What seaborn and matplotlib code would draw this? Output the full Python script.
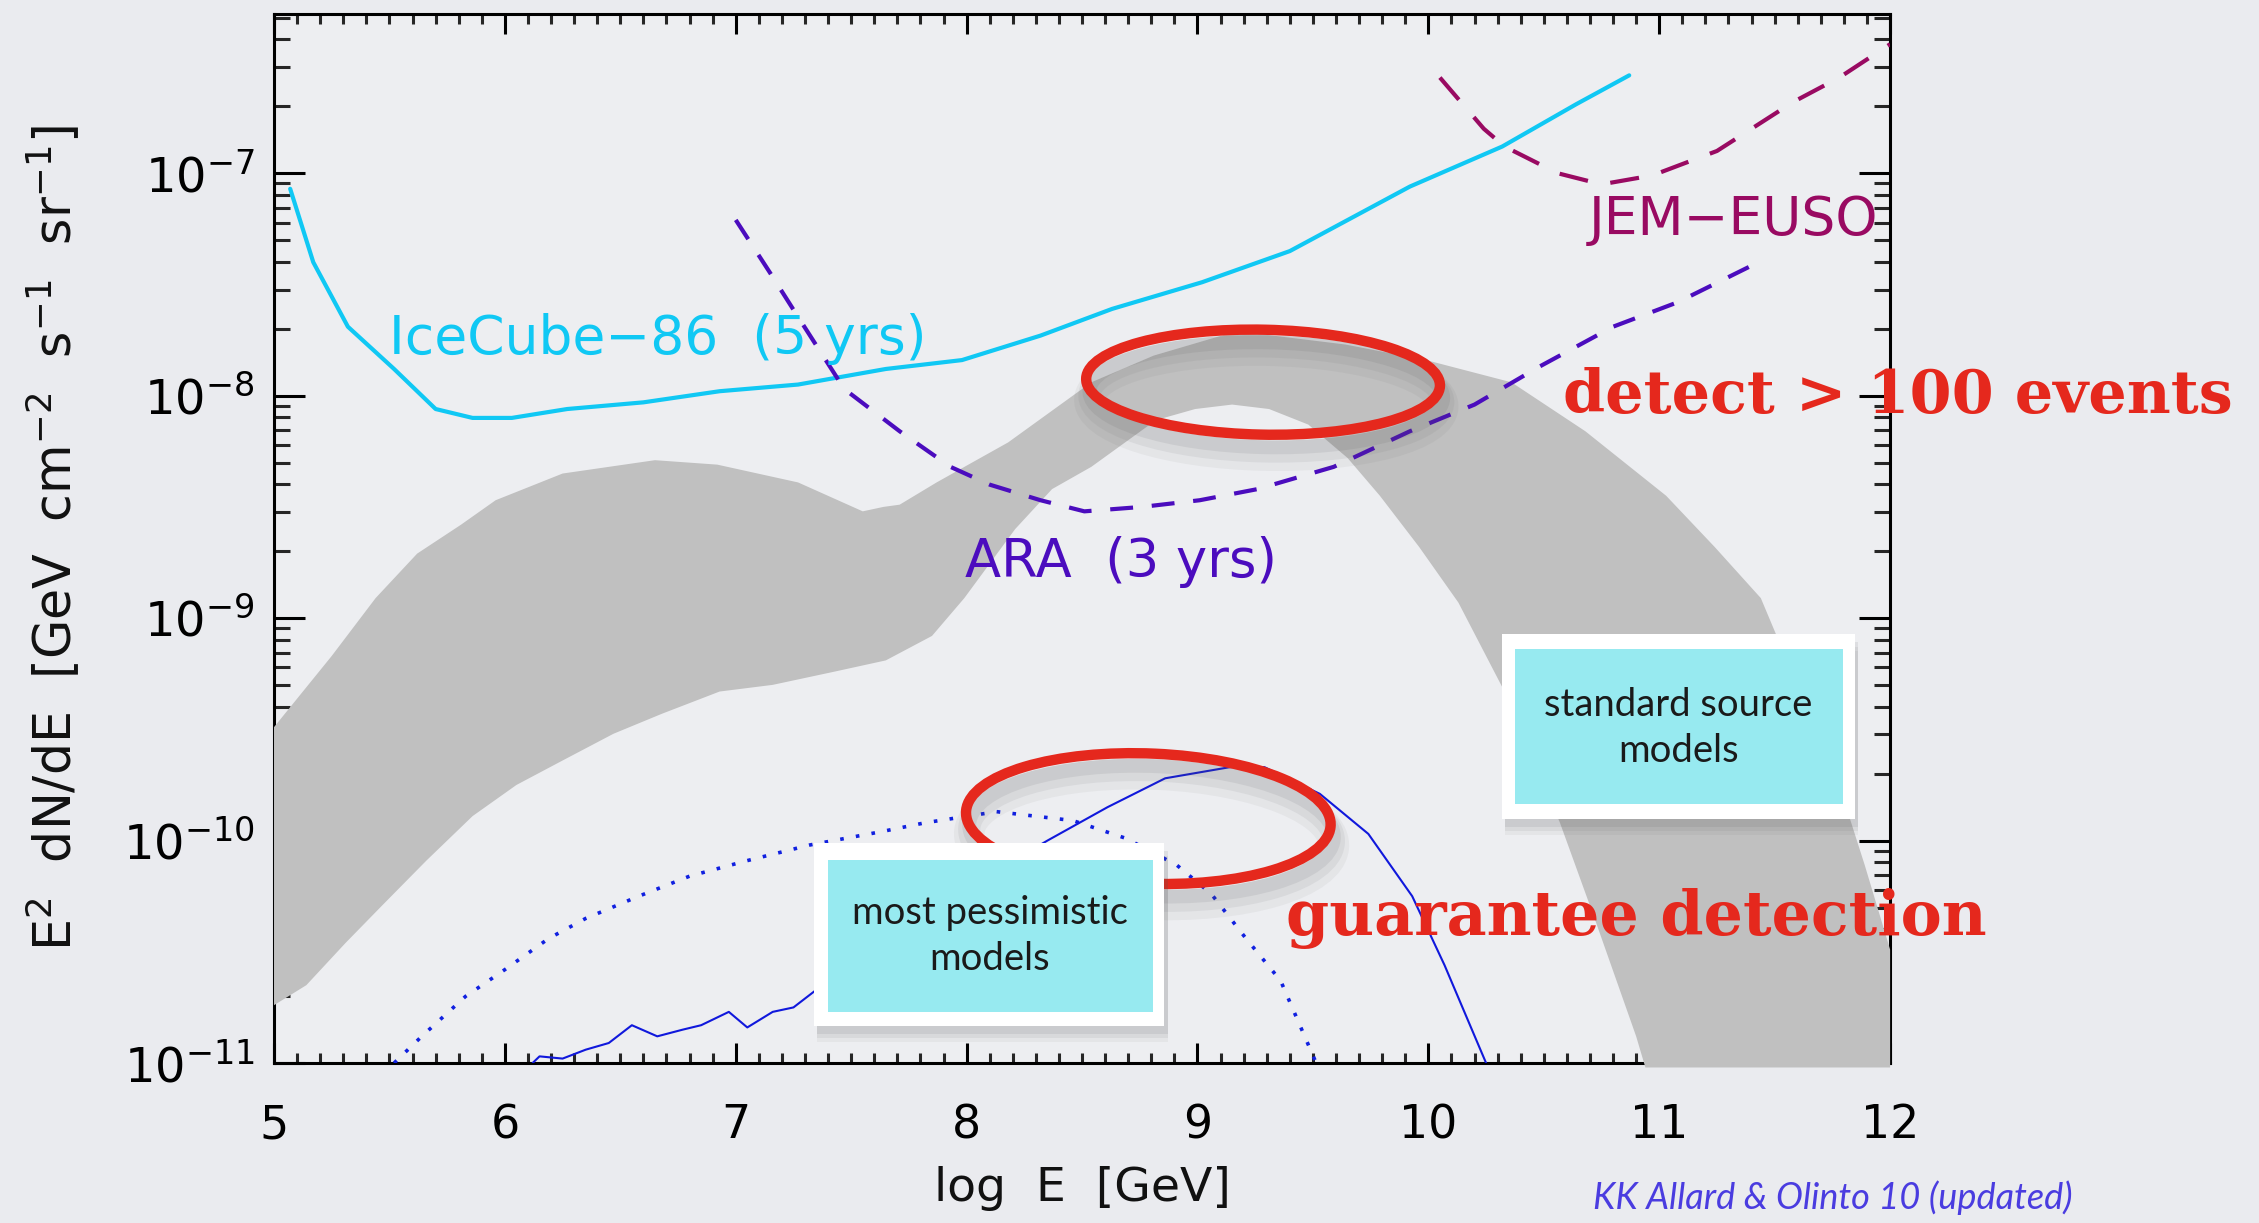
import numpy as np
import pandas as pd
import matplotlib
matplotlib.use("Agg")
import matplotlib.pyplot as plt
import seaborn as sns
from matplotlib.patches import Ellipse, Rectangle
from matplotlib.ticker import FixedLocator, MultipleLocator, LogLocator, FuncFormatter, NullFormatter
from matplotlib import font_manager

# ---------------- data (log10 E [GeV], log10 flux) ----------------
icecube_logE = [5.07, 5.17, 5.32, 5.52, 5.70, 5.86, 6.03, 6.27, 6.60, 6.93, 7.27, 7.65,
                7.98, 8.32, 8.63, 9.02, 9.40, 9.92, 10.32, 10.64, 10.87]
icecube_logF = [-7.07, -7.40, -7.69, -7.88, -8.06, -8.10, -8.10, -8.06, -8.03, -7.98, -7.95, -7.88,
                -7.84, -7.73, -7.61, -7.49, -7.35, -7.06, -6.88, -6.69, -6.56]

ara_logE = [7.00, 7.15, 7.26, 7.47, 7.71, 7.93, 8.10, 8.32, 8.51, 8.76, 9.01, 9.26,
            9.59, 9.92, 10.20, 10.48, 10.80, 11.08, 11.43]
ara_logF = [-7.21, -7.45, -7.63, -7.97, -8.16, -8.32, -8.40, -8.47, -8.52, -8.50, -8.47, -8.42,
            -8.32, -8.16, -8.04, -7.87, -7.69, -7.58, -7.40]

jem_logE = [10.05, 10.24, 10.33, 10.56, 10.75, 10.97, 11.25, 11.58, 11.78, 12.00]
jem_logF = [-6.57, -6.80, -6.88, -7.00, -7.05, -7.01, -6.90, -6.68, -6.57, -6.42]

band_hi_logE = [5.00, 5.25, 5.44, 5.62, 5.81, 5.96, 6.25, 6.65, 6.92, 7.27, 7.55, 7.64, 7.71,
                7.87, 8.18, 8.54, 8.81, 9.17, 9.64, 9.99, 10.36, 10.68, 11.03, 11.24, 11.44,
                11.61, 11.77, 11.89, 12.00]
band_hi_logF = [-9.49, -9.17, -8.91, -8.71, -8.58, -8.47, -8.35, -8.29, -8.31, -8.39, -8.52, -8.50, -8.49,
                -8.39, -8.21, -7.94, -7.82, -7.71, -7.77, -7.84, -7.94, -8.16, -8.45, -8.68, -8.91,
                -9.33, -9.72, -10.11, -10.49]
band_lo_logE = [5.00, 5.14, 5.31, 5.47, 5.66, 5.86, 6.05, 6.25, 6.47, 6.68, 6.93, 7.16, 7.43,
                7.65, 7.85, 7.99, 8.21, 8.37, 8.54, 8.82, 8.99, 9.15, 9.31, 9.48, 9.65, 9.79,
                9.96, 10.13, 10.33, 10.57, 10.72, 10.90, 10.94, 12.00]
band_lo_logF = [-10.74, -10.65, -10.46, -10.29, -10.09, -9.89, -9.75, -9.64, -9.52, -9.43, -9.33, -9.30, -9.24,
                -9.19, -9.08, -8.91, -8.60, -8.42, -8.32, -8.11, -8.06, -8.04, -8.06, -8.13, -8.28, -8.45,
                -8.68, -8.93, -9.33, -9.92, -10.35, -10.88, -11.02, -11.02]

dotted_logE = [5.52, 5.64, 5.83, 6.00, 6.19, 6.35, 6.58, 6.80, 7.05, 7.32, 7.63, 7.82,
               8.13, 8.46, 8.69, 8.91, 9.06, 9.21, 9.36, 9.51]
dotted_logF = [-11.00, -10.88, -10.70, -10.58, -10.44, -10.35, -10.25, -10.16, -10.09, -10.02, -9.96, -9.92,
               -9.87, -9.91, -9.99, -10.11, -10.24, -10.44, -10.63, -10.99]

thin_logE = [6.12, 6.15, 6.25, 6.35, 6.45, 6.55, 6.66, 6.77, 6.85, 6.97, 7.05, 7.16, 7.25,
             7.35, 7.81, 8.35, 8.61, 8.86, 9.14, 9.29, 9.53, 9.74, 9.93, 10.07, 10.25]
thin_logF = [-11.00, -10.97, -10.98, -10.94, -10.91, -10.83, -10.88, -10.85, -10.83, -10.77, -10.84, -10.77, -10.75,
             -10.67, -10.33, -10.00, -9.85, -9.72, -9.67, -9.67, -9.79, -9.97, -10.25, -10.56, -11.00]

x_ticks = [5, 6, 7, 8, 9, 10, 11, 12]
y_ticks_exp = [-11, -10, -9, -8, -7]

# ---------------- style ----------------
sns.set_theme(style="ticks")
names = {f.name for f in font_manager.fontManager.ttflist}
box_font = "Lato" if "Lato" in names else "DejaVu Sans"
plt.rcParams["font.family"] = ["DejaVu Sans"]
plt.rcParams["mathtext.fontset"] = "dejavusans"

BG = "#EAEBEF"
fig = plt.figure(figsize=(22.59, 12.23), dpi=100, facecolor=BG)
ax = fig.add_axes([0.1213, 0.1308, 0.7154, 0.8578])
ax.set_facecolor("#EDEEF1")
ax.set_yscale("log")
ax.set_xlim(5, 12)
ax.set_ylim(1e-11, 5.2e-7)

# gray band (standard source models)
poly_x = list(band_hi_logE) + list(band_lo_logE[::-1])
poly_y = list(10.0 ** np.array(band_hi_logF)) + list(10.0 ** np.array(band_lo_logF[::-1]))
ax.fill(poly_x, poly_y, color="#C0C0C0", lw=0, zorder=3, clip_on=False)

def line(xs, ys, **kw):
    df = pd.DataFrame({"logE": xs, "flux": 10.0 ** np.array(ys)})
    sns.lineplot(data=df, x="logE", y="flux", ax=ax, sort=False, estimator=None, **kw)

line(icecube_logE, icecube_logF, color="#10C8F4", lw=3.0, zorder=4)
line(ara_logE, ara_logF, color="#4B0CBE", lw=3.0, ls=(0, (5.5, 4.5)), zorder=4)
line(jem_logE, jem_logF, color="#990A62", lw=3.0, ls=(0, (7, 5.5)), zorder=4)
line(dotted_logE, dotted_logF, color="#1020E0", lw=2.6, ls=(0, (1, 3.4)), zorder=4)
line(thin_logE, thin_logF, color="#1018DC", lw=1.5, zorder=4)

# axes cosmetics
for s in ax.spines.values():
    s.set_linewidth(2.2)
    s.set_color("black")
    s.set_visible(True)
ax.xaxis.set_major_locator(FixedLocator(x_ticks))
ax.xaxis.set_minor_locator(MultipleLocator(0.1))
ax.yaxis.set_major_locator(FixedLocator([10.0 ** e for e in y_ticks_exp]))
ax.yaxis.set_minor_locator(LogLocator(base=10, subs=np.arange(2, 10)))
ax.yaxis.set_minor_formatter(NullFormatter())
ax.xaxis.set_major_formatter(FuncFormatter(lambda v, p: f"{int(round(v))}"))
ax.yaxis.set_major_formatter(FuncFormatter(lambda v, p: r"$10^{%d}$" % int(round(np.log10(v)))))
ax.tick_params(axis="x", which="major", direction="in", length=14.5, width=2.2, top=True,
               pad=29, labelsize=33, colors="black")
ax.tick_params(axis="x", which="minor", direction="in", length=7, width=2.2, top=True)
ax.tick_params(axis="y", which="major", direction="in", length=22, width=2.2, right=True,
               pad=14, labelsize=34.5, colors="black")
ax.tick_params(axis="y", which="minor", direction="in", length=11.5, width=2.2, right=True)

ax.set_xlabel("log  E  [GeV]", fontsize=34, color="#111111")
ax.xaxis.label.set_va("center")
ax.xaxis.set_label_coords(0.5, -0.120)
ax.set_ylabel(r"E$^2$  dN/dE  [GeV  cm$^{-2}$  s$^{-1}$  sr$^{-1}$]", fontsize=36.5, color="#111111")
ax.yaxis.label.set_va("center")
ax.yaxis.set_label_coords(-0.1365, 0.50)

# curve labels
ax.text(0.0712, 0.690, "IceCube\u221286  (5 yrs)", transform=ax.transAxes, fontsize=38.5,
        color="#10C8F4", va="center", ha="left", zorder=5)
ax.text(0.4276, 0.4776, "ARA  (3 yrs)", transform=ax.transAxes, fontsize=38,
        color="#4B0CBE", va="center", ha="left", zorder=5)
ax.text(0.8137, 0.8036, "JEM\u2212EUSO", transform=ax.transAxes, fontsize=38.5,
        color="#990A62", va="center", ha="left", zorder=5)

# red ellipses with soft shadows
RED = "#E5281D"
for (cx, cy, w, h, ang) in [(0.612, 0.649, 0.219, 0.100, -2), (0.541, 0.233, 0.226, 0.124, -4)]:
    for k, a in enumerate([0.10, 0.08, 0.06]):
        ax.add_patch(Ellipse((cx + 0.002, cy - 0.012 - 0.004 * k), w, h, angle=ang, transform=ax.transAxes,
                             fill=False, ec="#555555", lw=10 + 6 * k, alpha=a, zorder=5.5))
    ax.add_patch(Ellipse((cx, cy), w, h, angle=ang, transform=ax.transAxes,
                         fill=False, ec=RED, lw=7.5, zorder=6))

# model boxes
def model_box(x0, y0, w, h, ix0, iy0, iw, ih, text, tx, ty):
    for k, a in enumerate([0.10, 0.08, 0.06]):
        ax.add_patch(Rectangle((x0 + 0.002, y0 - 0.008 - 0.004 * k), w, h, transform=ax.transAxes,
                               fc="#555555", ec="none", alpha=a, zorder=6.8))
    ax.add_patch(Rectangle((x0, y0), w, h, transform=ax.transAxes, fc="white", ec="none", zorder=7))
    ax.add_patch(Rectangle((ix0, iy0), iw, ih, transform=ax.transAxes, fc="#97EAF0", ec="none", zorder=7.1))
    ax.text(tx, ty, text, transform=ax.transAxes, ha="center", va="center", fontsize=27.5,
            family=[box_font, "DejaVu Sans"], color="#1A1A1A", linespacing=1.35, zorder=8)

model_box(0.334, 0.0357, 0.217, 0.174, 0.343, 0.049, 0.201, 0.145,
          "most pessimistic\nmodels", 0.443, 0.121)
model_box(0.760, 0.233, 0.218, 0.176, 0.768, 0.247, 0.203, 0.148,
          "standard source\nmodels", 0.869, 0.319)

# red callouts
ax.text(0.7977, 0.636, "detect > 100 events", transform=ax.transAxes, fontsize=43.5,
        family=["DejaVu Serif"], fontweight="bold", color=RED, va="center", ha="left", zorder=9)
ax.text(0.626, 0.138, "guarantee detection", transform=ax.transAxes, fontsize=44.5,
        family=["DejaVu Serif"], fontweight="bold", color=RED, va="center", ha="left", zorder=9)

# citation (kept fully inside the canvas)
fig.text(1593 / 2259, 1 - 1180 / 1223, "KK Allard & Olinto 10 (updated)", fontsize=26,
         family=[box_font, "DejaVu Sans"], style="italic", color="#4A3CE0", ha="left", va="top")

fig.savefig("out.png", dpi=100, facecolor=BG)
